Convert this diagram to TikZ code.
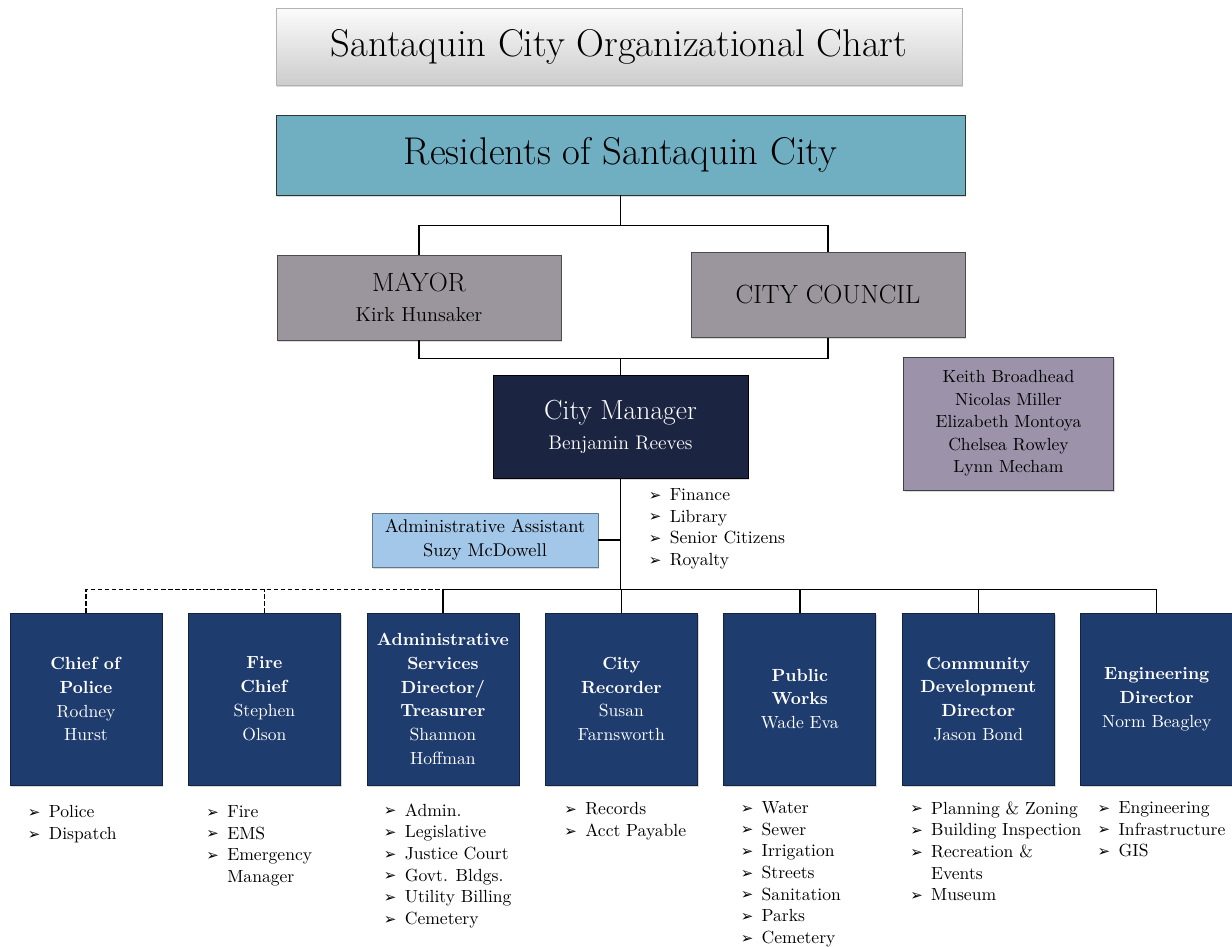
\documentclass[tikz,border=0pt]{standalone}
\usepackage{fontspec}
\newfontfamily\arrowfont{DejaVu Sans}
\usepackage{tikz}
\usetikzlibrary{positioning,shadows}

\definecolor{residentblue}{RGB}{112,174,194}
\definecolor{officegray}{RGB}{155,150,158}
\definecolor{managernavy}{RGB}{27,37,66}
\definecolor{memberlilac}{RGB}{156,147,170}
\definecolor{assistblue}{RGB}{162,199,232}
\definecolor{deptblue}{RGB}{31,60,110}

\newcommand{\bl}{\makebox[11.9pt][l]{\raisebox{0.2pt}{\fontsize{8.5}{8.5}\arrowfont\char"27A2}}}
\newcommand{\nobl}{\makebox[11.9pt]{}}

\tikzset{
    chartbox/.style={
        rectangle,
        inner sep=2pt,
        align=center,
        drop shadow={opacity=0.3, shadow xshift=0.7pt, shadow yshift=-1pt}
    },
    headbox/.style={
        chartbox,
        draw=gray!60,
        top color=gray!3,
        bottom color=gray!40,
        minimum width=13.72cm,
        minimum height=1.54cm,
        font=\fontsize{22}{26}\selectfont
    },
    residentbox/.style={
        chartbox,
        draw=black!80,
        fill=residentblue,
        minimum width=13.78cm,
        minimum height=1.6cm,
        font=\fontsize{22}{26}\selectfont
    },
    officebox/.style={
        chartbox,
        draw=black!70,
        fill=officegray,
        minimum height=1.7cm
    },
    managerbox/.style={
        chartbox,
        draw=black,
        fill=managernavy,
        text=white,
        minimum width=5.1cm,
        minimum height=2.06cm,
        font=\fontsize{11.2}{17}\selectfont
    },
    memberbox/.style={
        chartbox,
        draw=black!75,
        fill=memberlilac,
        minimum width=4.2cm,
        minimum height=2.66cm,
        font=\fontsize{10}{12.8}\selectfont
    },
    assistbox/.style={
        chartbox,
        draw=assistblue!60!black,
        fill=assistblue,
        minimum width=4.52cm,
        minimum height=1.08cm,
        font=\fontsize{10.5}{13.6}\selectfont
    },
    deptbox/.style={
        chartbox,
        draw=deptblue!60!black,
        fill=deptblue,
        text=white,
        minimum width=3.04cm,
        minimum height=3.44cm,
        font=\fontsize{10}{13.6}\selectfont
    },
    duties/.style={
        anchor=north west,
        inner sep=0pt,
        align=left,
        font=\fontsize{10}{12.3}\selectfont
    },
    conn/.style={draw, line width=0.8pt},
    dashconn/.style={conn, dash pattern=on 2.5pt off 1.5pt}
}

\begin{document}
\begin{tikzpicture}[node distance=5mm and 0.515cm]
    \useasboundingbox (0,0) rectangle (24.64,-18.94);

    \node[headbox] (chart title) at (12.38,-0.94) {Santaquin City Organizational Chart};
    \node[residentbox] (residents) at (12.41,-3.1) {Residents of Santaquin City};

    \node[officebox, minimum width=5.68cm, font=\fontsize{11.5}{17}\selectfont] (mayor) at (8.38,-5.95)
        {{\fontsize{15}{17}\selectfont MAYOR}\\Kirk Hunsaker};
    \node[officebox, minimum width=5.48cm, font=\fontsize{15}{17}\selectfont] (city council) at (16.56,-5.9)
        {CITY COUNCIL};

    \node[managerbox] (city manager) at (12.41,-8.53)
        {{\fontsize{15.7}{17}\selectfont City Manager}\\Benjamin Reeves};
    \node[memberbox] (council members) at (20.17,-8.47)
        {Keith Broadhead\\Nicolas Miller\\Elizabeth Montoya\\Chelsea Rowley\\Lynn Mecham};
    \node[assistbox] (admin assistant) at (9.7,-10.8)
        {Administrative Assistant\\Suzy McDowell};
    \node[duties, below right=0.2cm and 0.56cm of city manager.south] (manager duties)
        {\bl Finance\\\bl Library\\\bl Senior Citizens\\\bl Royalty};

    \node[deptbox] (police) at (1.72,-13.98)
        {\textbf{Chief of}\\\textbf{Police}\\Rodney\\Hurst};
    \node[deptbox, right=of police] (fire chief)
        {\textbf{Fire}\\\textbf{Chief}\\Stephen\\Olson};
    \node[deptbox, right=of fire chief] (admin services)
        {\textbf{Administrative}\\\textbf{Services}\\\textbf{Director/}\\\textbf{Treasurer}\\Shannon\\Hoffman};
    \node[deptbox, right=of admin services] (city recorder)
        {\textbf{City}\\\textbf{Recorder}\\Susan\\Farnsworth};
    \node[deptbox, right=of city recorder] (public works)
        {\textbf{Public}\\\textbf{Works}\\Wade Eva};
    \node[deptbox, right=of public works] (community dev)
        {\textbf{Community}\\\textbf{Development}\\\textbf{Director}\\Jason Bond};
    \node[deptbox, right=of community dev] (engineering)
        {\textbf{Engineering}\\\textbf{Director}\\Norm Beagley};

    \node[duties, below right=0.4cm and 0.36cm of police.south west] (police duties)
        {\bl Police\\\bl Dispatch};
    \node[duties, below right=0.4cm and 0.36cm of fire chief.south west] (fire duties)
        {\bl Fire\\\bl EMS\\\bl Emergency\\\nobl Manager};
    \node[duties, below right=0.36cm and 0.34cm of admin services.south west] (admin duties)
        {\bl Admin.\\\bl Legislative\\\bl Justice Court\\\bl Govt. Bldgs.\\\bl Utility Billing\\\bl Cemetery};
    \node[duties, below right=0.34cm and 0.38cm of city recorder.south west] (recorder duties)
        {\bl Records\\\bl Acct Payable};
    \node[duties, below right=0.32cm and 0.34cm of public works.south west] (works duties)
        {\bl Water\\\bl Sewer\\\bl Irrigation\\\bl Streets\\\bl Sanitation\\\bl Parks\\\bl Cemetery};
    \node[duties, below right=0.32cm and 0.16cm of community dev.south west] (community duties)
        {\bl Planning \& Zoning\\\bl Building Inspection\\\bl Recreation \&\\\nobl Events\\\bl Museum};
    \node[duties, below right=0.32cm and 0.34cm of engineering.south west] (engineering duties)
        {\bl Engineering\\\bl Infrastructure\\\bl GIS};

    \coordinate[below=0.6cm of residents] (upper split);
    \coordinate[above=0.32cm of city manager] (lower join);
    \coordinate[below=2.22cm of city manager] (dept bus);

    \draw[conn] (residents) -- (upper split);
    \draw[conn] (mayor) |- (upper split) -| (city council);
    \draw[conn] (mayor) |- (lower join) -| (city council);
    \draw[conn] (lower join) -- (city manager);
    \draw[conn] (city manager) -- (dept bus);
    \draw[conn] (admin assistant) -- (admin assistant -| dept bus);
    \draw[conn] (admin services) |- (dept bus) -| (engineering);
    \foreach \d in {city recorder, public works, community dev}
        \draw[conn] (\d) -- (\d |- dept bus);
    \draw[dashconn] (police) |- (admin services |- dept bus);
    \draw[dashconn] (fire chief) -- (fire chief |- dept bus);
\end{tikzpicture}
\end{document}
